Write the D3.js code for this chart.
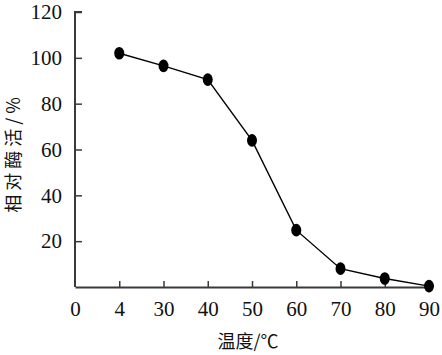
<!DOCTYPE html>
<html>
<head>
<meta charset="utf-8">
<script src="https://cdn.jsdelivr.net/npm/d3@7"></script>
<style>
  body { margin: 0; background: #fff; }
  svg { display: block; }
</style>
</head>
<body>
<svg id="chart"></svg>
<script>
const width = 442;
const height = 355;

// x 轴刻度 (等间距)
const xTicks = ["0", "4", "30", "40", "50", "60", "70", "80", "90"];
// 温度 与 相对酶活
const temps = ["4", "30", "40", "50", "60", "70", "80", "90"];
const activity = [102, 96.5, 90.5, 64, 24.8, 8, 3.7, 0.4];
const yTicks = [20, 40, 60, 80, 100, 120];

const margin = { left: 75, right: 13, top: 12, bottom: 68 };

const svg = d3.select("#chart")
    .attr("width", width)
    .attr("height", height);

const x = d3.scalePoint()
    .domain(xTicks)
    .range([margin.left, width - margin.right]);

const y = d3.scaleLinear()
    .domain([0, 120])
    .range([height - margin.bottom, margin.top]);

const axisColor = "#3a3a3a";

// y 轴 (刻度朝内)
const yAxis = svg.append("g")
    .attr("transform", `translate(${margin.left},0)`)
    .call(d3.axisLeft(y).tickValues(yTicks).tickSizeInner(-7).tickSizeOuter(0).tickPadding(13));
yAxis.select(".domain").attr("stroke", axisColor).attr("stroke-width", 2)
    .attr("d", `M0,${y(0)}V${y(120)}H7`);
yAxis.selectAll(".tick line").attr("stroke", axisColor).attr("stroke-width", 1.5);

// x 轴 (刻度朝上)
const xAxis = svg.append("g")
    .attr("transform", `translate(0,${y(0)})`)
    .call(d3.axisBottom(x).tickSizeInner(-6).tickSizeOuter(0).tickPadding(14));
xAxis.select(".domain").attr("stroke", axisColor).attr("stroke-width", 2);
xAxis.selectAll(".tick line").attr("stroke", axisColor).attr("stroke-width", 1.5)
    .attr("display", d => d === "0" ? "none" : null);

// 刻度文字用衬线字体
[yAxis, xAxis].forEach(ax => ax
    .attr("font-family", "Liberation Serif")
    .attr("font-size", 21)
    .selectAll("text")
    .style("font-family", "Liberation Serif")
    .style("font-size", "21px")
    .attr("fill", "#111"));

const pts = temps.map((t, i) => ({ t, v: activity[i] }));

svg.append("path")
    .datum(pts)
    .attr("fill", "none")
    .attr("stroke", "#000")
    .attr("stroke-width", 1.4)
    .attr("d", d3.line().x(d => x(d.t)).y(d => y(d.v)));

svg.selectAll(".pt")
    .data(pts)
    .enter()
    .append("ellipse")
    .attr("class", "pt")
    .attr("cx", d => x(d.t))
    .attr("cy", d => y(d.v))
    .attr("rx", 5)
    .attr("ry", 6.3)
    .attr("fill", "#000");

// 轴标题
svg.append("text")
    .attr("x", 248)
    .attr("y", 348)
    .attr("text-anchor", "middle")
    .attr("font-family", "Noto Sans CJK SC")
    .attr("font-size", 18)
    .attr("fill", "#111")
    .text("温度/℃");

svg.append("text")
    .attr("transform", `translate(20,153) rotate(-90)`)
    .attr("text-anchor", "middle")
    .attr("font-family", "Noto Sans CJK SC")
    .attr("font-size", 18)
    .attr("letter-spacing", 4)
    .attr("fill", "#111")
    .text("相对酶活/%");
</script>
</body>
</html>
